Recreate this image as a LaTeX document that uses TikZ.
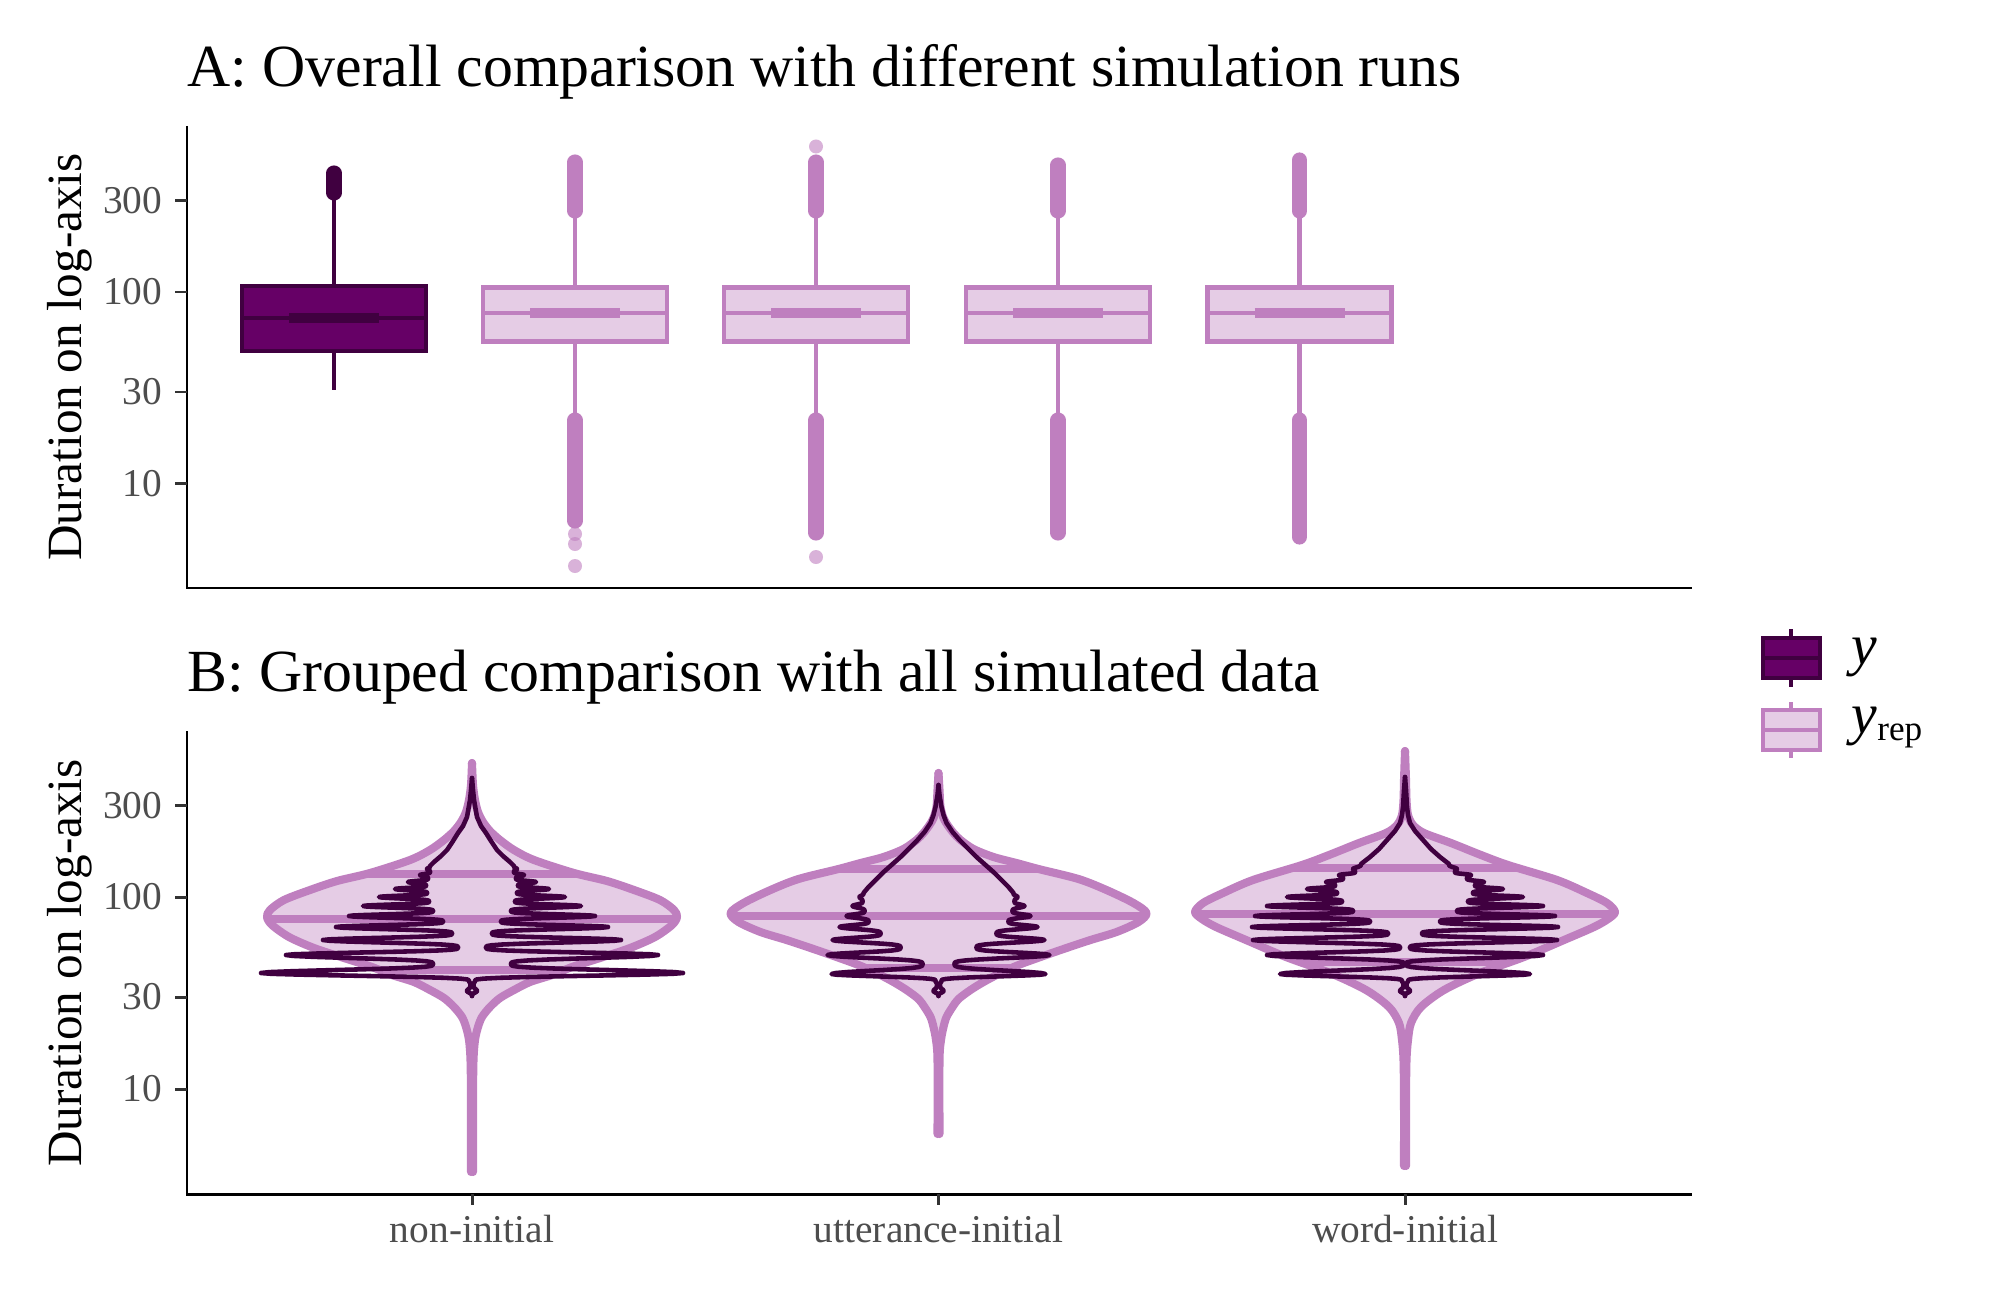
\documentclass[tikz,border=0pt]{standalone}
\usepackage{fontspec}
\setmainfont{Liberation Serif}

\definecolor{lightfill}{HTML}{E5CCE5}
\definecolor{lightline}{HTML}{BF7FBF}
\definecolor{darkfill}{HTML}{660066}
\definecolor{darkline}{HTML}{400040}
\definecolor{ticktext}{HTML}{4D4D4D}
\definecolor{tickgrey}{HTML}{333333}

\def\boxhw{92}
\def\medhw{45}

% replicated box: centre, top of upper outliers, bottom of lower outliers
\newcommand\repbox[3]{%
  \draw[repwhisker] (#1,218) -- (#1,287.5) (#1,341.5) -- (#1,413);
  \draw[repbox] (#1-\boxhw,287.5) rectangle (#1+\boxhw,341.5);
  \draw[repmedian] (#1-\boxhw,313) -- (#1+\boxhw,313);
  \draw[repmedian,line width=2.6pt] (#1-\medhw,313) -- (#1+\medhw,313);
  \draw[repoutlier] (#1,211) -- (#1,#2+7) (#1,420) -- (#1,#3-7);
}

% replicated violin: centre, top, bottom, quantiles y/w, right half
\newcommand\repviolin[5]{%
  \begin{scope}[shift={(#1,0)}]
    \foreach \side in {1,-1}
      \fill[lightfill,xscale=\side] plot[smooth] coordinates {#5}
        -- (-2,#3) -- (-2,#2) -- cycle;
    \foreach \qy/\qw in {#4}
      \draw[violinline] (-\qw,\qy) -- (\qw,\qy);
    \foreach \side in {1,-1}
      \draw[violinline,xscale=\side] plot[smooth] coordinates {#5};
  \end{scope}
}

% observed violin: centre, top, right half as y/w/kind (0 line, 1 lobe)
\newcommand\obsviolin[3]{%
  \begin{scope}[shift={(#1,0)}]
    \foreach \side in {1,-1}
      \draw[obsline,xscale=\side] (0,#2)
        \foreach \vy/\vw/\vk [remember=\vy as \py (initially #2),
                              remember=\vw as \pw (initially 0)] in {#3} {
          \foreach \q in {0.1,0.2,0.3,0.4,0.5,0.6,0.7,0.8,0.9,1} {
            -- ({ifthenelse(\vk==0,\pw+\q*(\vw-\pw),
                  min(\pw,\vw)+abs(\vw-\pw)*pow(abs(cos(90*ifthenelse(\vw>\pw,1-\q,\q))),4))},
                {\py+\q*(\vy-\py)})
          }
        };
  \end{scope}
}

\begin{document}
\begin{tikzpicture}[
    x=0.01cm, y=-0.01cm,
    axisline/.style={draw=black, line width=0.85pt},
    axistick/.style={draw=tickgrey, line width=0.85pt},
    ticklabel/.style={text=ticktext, inner sep=0pt,
      font=\fontsize{11.2pt}{13pt}\selectfont},
    plottitle/.style={anchor=base west, inner sep=0pt,
      font=\fontsize{17pt}{20pt}\selectfont},
    axistitle/.style={anchor=base, rotate=90, inner sep=0pt,
      font=\fontsize{14pt}{16pt}\selectfont},
    legendtext/.style={anchor=base west, inner sep=0pt,
      font=\fontsize{16.4pt}{19pt}\selectfont},
    obsbox/.style={draw=darkline, fill=darkfill, line width=1.2pt},
    obswhisker/.style={draw=darkline, line width=1.2pt},
    obsmedian/.style={draw=darkline, line width=1.4pt},
    obsoutlier/.style={draw=darkline, line width=4.3pt, line cap=round},
    repbox/.style={draw=lightline, fill=lightfill, line width=1.2pt},
    repwhisker/.style={draw=lightline, line width=1.2pt},
    repmedian/.style={draw=lightline, line width=1.4pt},
    repoutlier/.style={draw=lightline, line width=4.3pt, line cap=round},
    repdot/.style={fill=lightline, fill opacity=0.6},
    violinline/.style={draw=lightline, line width=2.3pt, line cap=round, line join=round},
    obsline/.style={draw=darkline, line width=1.3pt, line cap=round, line join=round}
  ]
    \useasboundingbox (0,0) rectangle (2000,1300);

    % titles
    \node[plottitle] (titleA) at (187,87) {A: Overall comparison with different simulation runs};
    \node[plottitle] (titleB) at (187,691.6) {B: Grouped comparison with all simulated data};
    \node[axistitle] (ytitleA) at (81,357) {Duration on log-axis};
    \node[axistitle] (ytitleB) at (81,963) {Duration on log-axis};

    % axes
    \draw[axisline] (187,126) -- (187,588) -- (1692,588);
    \draw[axisline] (187,731) -- (187,1194) -- (1692,1194);
    \foreach \v/\ya/\yb in {300/200.5/805.6, 100/292/897, 30/392/997, 10/483.5/1089} {
      \draw[axistick] (175,\ya) -- (187,\ya);
      \draw[axistick] (175,\yb) -- (187,\yb);
      \node[ticklabel,anchor=east] (tickA\v) at (163,\ya) {\v};
      \node[ticklabel,anchor=east] (tickB\v) at (163,\yb) {\v};
    }
    \foreach \x/\lab/\nm in {472/non-initial/nonini, 938.5/utterance-initial/uttini,
                            1405/word-initial/wordini} {
      \draw[axistick] (\x,1194) -- (\x,1205);
      \node[ticklabel,anchor=base] (\nm) at (\x,1242) {\lab};
    }

    % panel A: observed box
    \draw[obswhisker] (334,199.5) -- (334,286) (334,351) -- (334,390);
    \draw[obsbox] (242,286) rectangle (426,351);
    \draw[obsmedian] (242,318) -- (426,318);
    \draw[obsmedian,line width=2.6pt] (289,318) -- (379,318);
    \draw[obsoutlier] (334,173) -- (334,193);

    % panel A: replicated boxes
    \repbox{575}{155}{528}
    \repbox{816}{155}{540}
    \repbox{1058}{158}{540}
    \repbox{1299.5}{153}{544}
    \foreach \x/\y in {575/534, 575/544, 575/566, 816/146.5, 816/557}
      \fill[repdot] (\x,\y) circle[radius=0.7mm];

    % panel B: replicated violins
    \repviolin{472}{763}{1172}{874/103, 919/203, 970/92}{(0,763) (1,785) (3,800) (6,812)
      (11,822) (18,831) (28,840) (42,850) (62,860) (102,873) (135,881) (162,890) (188,900)
      (202,910) (205,917) (200,925) (183,937) (158,948) (128,958) (100,967) (80,975)
      (58,982) (42,990) (28,998) (18,1007) (10,1017) (6,1027) (3,1040) (1.5,1060)
      (1,1100) (1,1172)}
    \repviolin{938.5}{773}{1134}{869/100, 916/206, 968/72}{(0,773) (1,790) (2,807) (5,818)
      (9,825) (15,833) (22,840) (35,849) (55,857) (78,863) (100,869) (140,879) (168,890)
      (195,903) (208,913) (200,922) (178,932) (152,940) (125,949) (102,957) (80,965)
      (62,973) (45,982) (32,990) (20,999) (14,1007) (8,1017) (5,1027) (2.5,1040)
      (1,1060) (1,1134)}
    \repviolin{1405}{751}{1166}{868/112, 914/208, 962/103}{(0,751) (1,780) (1.5,800)
      (3,815) (8,825) (19,833) (46,843) (76,855) (103,865) (152,880) (182,893) (202,903)
      (210,912) (203,919) (189,927) (159,940) (119,957) (75,973) (39,990) (16,1007)
      (6,1023) (3,1040) (1.5,1060) (1,1100) (1,1166)}

    % panel B: observed violins
    \obsviolin{472}{778}{790/1/0, 800/2/0, 817/5/0, 826/9/0, 833/14/0, 841/19/0,
      850/25/0, 856/31/0, 862/38/0, 866/42/0, 869/45/1, 872/42/1, 875/52/1, 878.5/44/1,
      882/64/1, 885.5/46/1, 889/77/1, 893/45/1, 897/93/1, 901.5/43/1, 906/109/1, 911/39/1,
      916/123/1, 921.5/29/1, 927/136/1, 933.5/20/1, 940/149/1, 947.5/14/1, 955/186/1,
      964/39/1, 973/211/1, 981/3/1, 985/1.5/1, 991/5/1, 996/0/1}
    \obsviolin{938.5}{785}{795/1/0, 807/3/0, 815/5/0, 823/8/0, 832/14/0, 840/21/0,
      848/29/0, 857/38/0, 865/47/0, 873/56/0, 880/63/0, 887/70/0, 893/75/0, 897/79/1,
      901.5/76/1, 906/86/1, 911/74/1, 916/92/1, 921.5/70/1, 927/99/1, 933.5/58/1,
      940/106/1, 947.5/38/1, 955/111/1, 964/16/1, 974/107/1, 981/3/1, 985/1.5/1,
      991/5/1, 996/0/1}
    \obsviolin{1405}{777}{790/1/0, 807/2/0, 815/3/0, 823/5/0, 831/10/0, 840/18/0,
      849/26/0, 857/35/0, 864/44/0, 869/52/1, 872/50/1, 875/66/1, 878.5/62/1, 882/79/1,
      885.5/70/1, 889/98/1, 893/68/1, 897/118/1, 901.5/63/1, 906/138/1, 911/52/1,
      916/150/1, 921.5/35/1, 927/153/1, 933.5/17/1, 940/152/1, 947.5/5/1, 955/138/1,
      964/1/1, 974/125/1, 981/3/1, 985/1.5/1, 991/5/1, 996/0/1}

    % legend
    \draw[obswhisker] (1791,629) -- (1791,687);
    \draw[obsbox] (1763,638) rectangle (1820,678);
    \draw[obsmedian] (1763,658) -- (1820,658);
    \draw[repwhisker] (1791,702) -- (1791,758);
    \draw[repbox] (1763,710) rectangle (1820,750);
    \draw[repmedian] (1763,730) -- (1820,730);
    \node[legendtext] (legY) at (1851,664) {\itshape y};
    \node[legendtext] (legYrep) at (1851,733)
      {\itshape y\/\upshape\raisebox{-2pt}{\fontsize{10pt}{12pt}\selectfont rep}};
  \end{tikzpicture}
\end{document}
